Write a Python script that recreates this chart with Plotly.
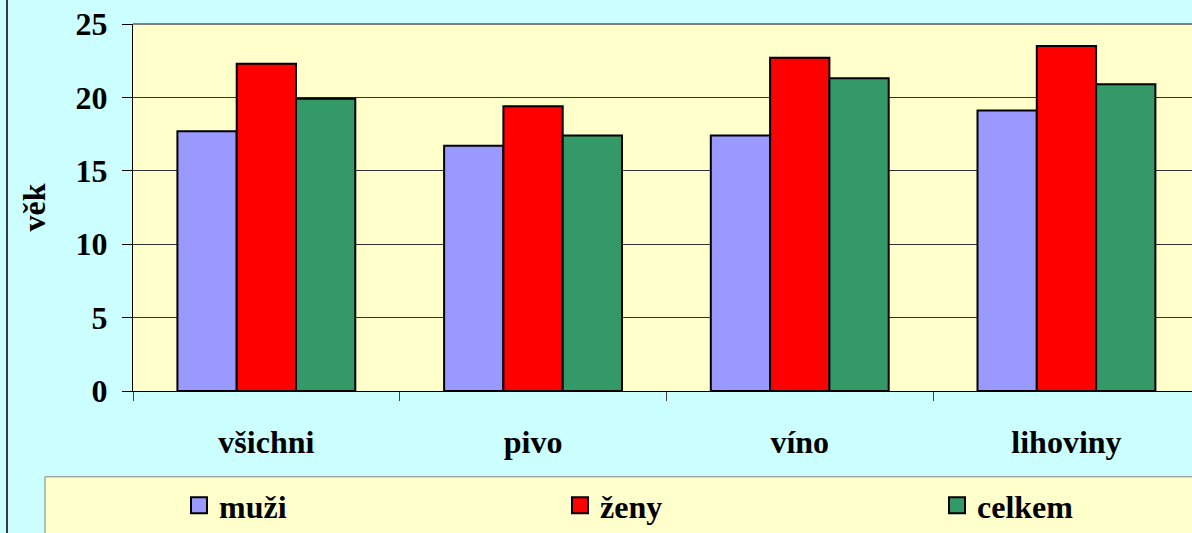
import plotly.graph_objects as go

categories = ["všichni", "pivo", "víno", "lihoviny"]
muzi = [17.7, 16.7, 17.4, 19.1]
zeny = [22.3, 19.4, 22.7, 23.5]
celkem = [19.9, 17.4, 21.3, 20.9]
series_names = ["muži", "ženy", "celkem"]
colors = ["#9999FF", "#FF0000", "#339966"]
y_ticks = [0, 5, 10, 15, 20, 25]

W, H = 1192, 533
ML, MR, MT, MB = 133, 0, 24, 141
pw, ph = W - ML - MR, H - MT - MB

def px(x):
    return (x - ML) / pw

def py(y):
    return (H - MB - y) / ph

FONT = "Liberation Serif, Times New Roman, serif"
FS = 32

legend_ids = ["legend", "legend2", "legend3"]
legend_left = [179, 560, 937]

fig = go.Figure()
for name, vals, col in zip(series_names, [muzi, zeny, celkem], colors):
    fig.add_trace(go.Bar(
        x=categories, y=vals, name=name, showlegend=False,
        marker=dict(color=col, line=dict(color="black", width=2)),
    ))
# legend entries (larger square swatches, like the original)
for name, col, lg in zip(series_names, colors, legend_ids):
    fig.add_trace(go.Scatter(
        x=[None], y=[None], name=name, legend=lg, mode="markers",
        marker=dict(symbol="square", size=16, color=col,
                    line=dict(color="black", width=2)),
        hoverinfo="skip",
    ))

cat_w = 266.7
legend_common = dict(
    orientation="h", yanchor="middle", y=py(507), xanchor="left",
    bgcolor="rgba(0,0,0,0)", borderwidth=0,
    font=dict(family=FONT, size=FS, color="black", weight="bold"),
)
layout_legends = {}
for lg, xl in zip(legend_ids, legend_left):
    layout_legends[lg] = dict(legend_common, x=px(xl))

fig.update_layout(
    width=W, height=H,
    margin=dict(l=ML, r=MR, t=MT, b=MB, pad=0),
    paper_bgcolor="#CCFFFF",
    plot_bgcolor="#FFFFCC",
    barmode="group", bargap=0.333, bargroupgap=0,
    font=dict(family=FONT, size=FS, color="black"),
    showlegend=True,
    xaxis=dict(
        type="category",
        range=[-0.5, -0.5 + pw / cat_w],
        showline=True, linecolor="black", linewidth=1,
        ticks="outside", tickson="boundaries", ticklen=9, tickcolor="#404040",
        ticklabelstandoff=23,
        tickfont=dict(family=FONT, size=FS, color="black", weight="bold"),
        showgrid=False, fixedrange=True,
    ),
    yaxis=dict(
        range=[0, 25], tickvals=y_ticks,
        showline=True, linecolor="black", linewidth=1,
        ticks="outside", ticklen=10, tickcolor="black",
        ticklabelstandoff=8,
        showgrid=True, gridcolor="#333333", gridwidth=1,
        zeroline=False,
        tickfont=dict(family=FONT, size=FS, color="black", weight="bold"),
        title=dict(text="věk", standoff=20,
                   font=dict(family=FONT, size=FS, color="black", weight="bold")),
    ),
    shapes=[
        dict(type="rect", xref="paper", yref="paper",
             x0=px(45), x1=1.02, y0=py(478), y1=py(560),
             fillcolor="#FFFFCC", line=dict(color="#808080", width=1), layer="below"),
        dict(type="line", xref="paper", yref="paper",
             x0=px(7), x1=px(7), y0=py(-5), y1=py(540),
             line=dict(color="black", width=1.5)),
        dict(type="line", xref="paper", yref="paper",
             x0=0, x1=1, y0=1, y1=1,
             line=dict(color="#808080", width=2)),
    ],
    **layout_legends,
)

fig.write_html(
    "out.html",
    config={"displayModeBar": False},
    post_script="document.body.style.margin='0px';document.body.style.overflow='hidden';"
                "document.body.style.background='#CCFFFF';",
)
